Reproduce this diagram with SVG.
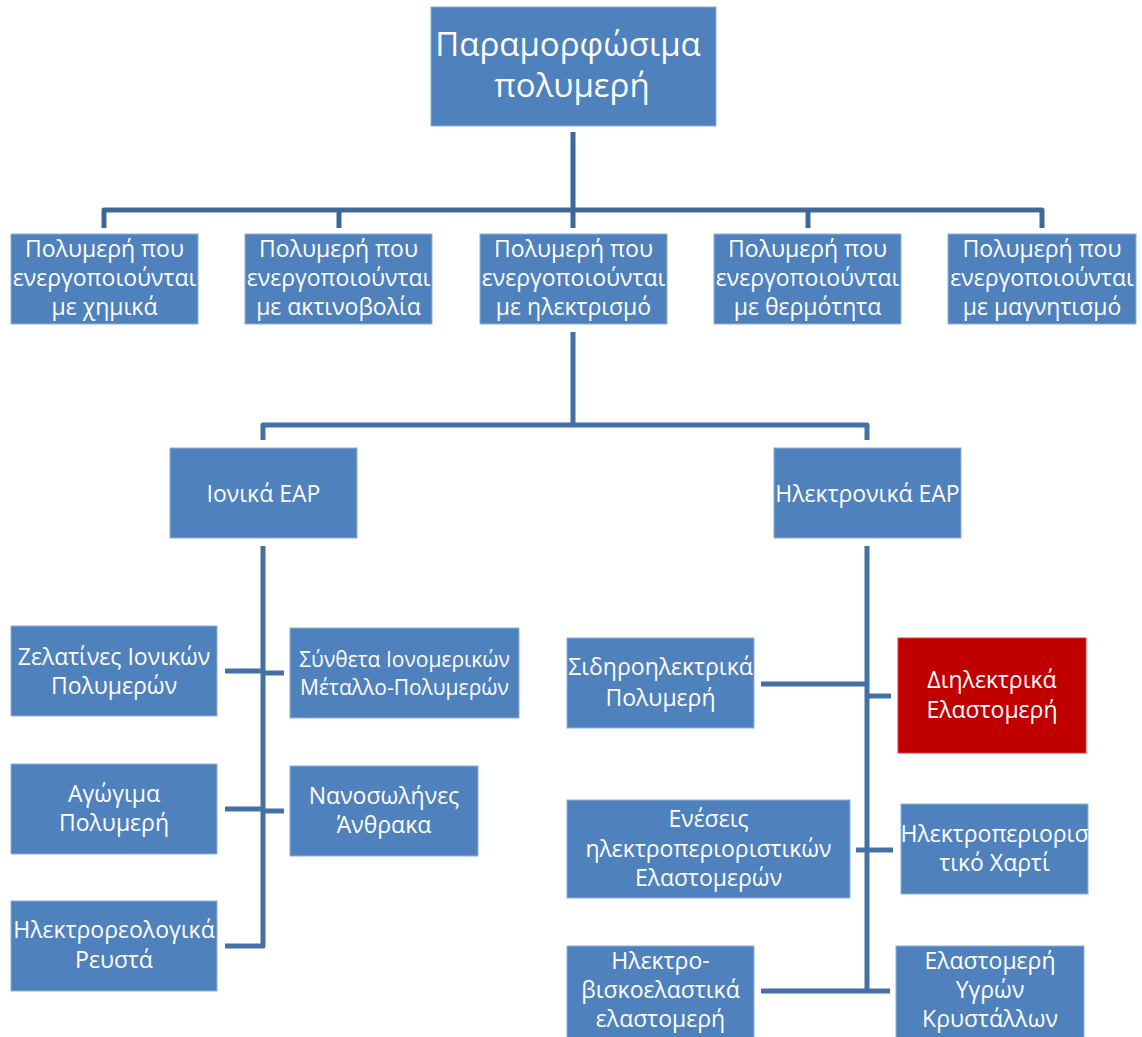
<svg xmlns="http://www.w3.org/2000/svg" width="1142" height="1037" viewBox="0 0 1142 1037">
<style>
.box{fill:#4F81BD;stroke:#8DAFD8;stroke-width:1}
.red{fill:#C00000;stroke:#D84040;stroke-width:1}
text{font-family:"Open Sans","Noto Sans","DejaVu Sans",sans-serif;fill:#FFFFFF;text-anchor:middle}
.t34{font-size:33px}
.t21{font-size:23px}
.t23{font-size:23px}
.t19{font-size:21px}
.c{fill:none;stroke:#4470A6;stroke-width:5;stroke-linejoin:round}
.ct{fill:none;stroke:#3F6899;stroke-width:5;stroke-linejoin:round}
</style>
<rect width="1142" height="1037" fill="#FFFFFF"/>
<g id="connectors">
<path class="ct" d="M573 132 V228"/>
<path class="ct" d="M104 228 V210 H1042 V228"/>
<path class="ct" d="M339 210 V228 M808 210 V228"/>
<path class="c" d="M573 332 V425"/>
<path class="c" d="M263 440 V425 H867 V440"/>
<path class="c" d="M263 546 V946 H225"/>
<path class="c" d="M225 671 H263 M263 673 H284"/>
<path class="c" d="M225 809 H263 M263 811 H284"/>
<path class="c" d="M867 546 V991"/>
<path class="c" d="M761 684 H867 M867 696 H891"/>
<path class="c" d="M856 850 H893"/>
<path class="c" d="M761 991 H890"/>
</g>
<g id="n0"><rect class="box" x="431" y="7" width="285" height="119"/><text class="t34" x="568" y="56">Παραμορφώσιμα</text><text class="t34" x="572" y="97">πολυμερή</text></g>
<g id="n1"><rect class="box" x="11" y="234" width="187" height="90"/><text class="t21" x="104.5" y="257">Πολυμερή που</text><text class="t21" x="104.5" y="286">ενεργοποιούνται</text><text class="t21" x="104.5" y="315">με χημικά</text></g>
<g id="n2"><rect class="box" x="245" y="234" width="187" height="90"/><text class="t21" x="338.5" y="257">Πολυμερή που</text><text class="t21" x="338.5" y="286">ενεργοποιούνται</text><text class="t21" x="338.5" y="315">με ακτινοβολία</text></g>
<g id="n3"><rect class="box" x="480" y="234" width="187" height="90"/><text class="t21" x="573.5" y="257">Πολυμερή που</text><text class="t21" x="573.5" y="286">ενεργοποιούνται</text><text class="t21" x="573.5" y="315">με ηλεκτρισμό</text></g>
<g id="n4"><rect class="box" x="714" y="234" width="187" height="90"/><text class="t21" x="807.5" y="257">Πολυμερή που</text><text class="t21" x="807.5" y="286">ενεργοποιούνται</text><text class="t21" x="807.5" y="315">με θερμότητα</text></g>
<g id="n5"><rect class="box" x="948" y="234" width="188" height="90"/><text class="t21" x="1042" y="257">Πολυμερή που</text><text class="t21" x="1042" y="286">ενεργοποιούνται</text><text class="t21" x="1042" y="315">με μαγνητισμό</text></g>
<g id="n6"><rect class="box" x="170" y="448" width="187" height="90"/><text class="t21" x="263.5" y="502">Ιονικά ΕΑΡ</text></g>
<g id="n7"><rect class="box" x="774" y="448" width="187" height="90"/><text class="t21" x="867.5" y="502">Ηλεκτρονικά ΕΑΡ</text></g>
<g id="n8"><rect class="box" x="11" y="626" width="206" height="90"/><text class="t23" x="114" y="665">Ζελατίνες Ιονικών</text><text class="t23" x="114" y="694">Πολυμερών</text></g>
<g id="n9"><rect class="box" x="290" y="628" width="229" height="90"/><text class="t19" x="404.5" y="667">Σύνθετα Ιονομερικών</text><text class="t19" x="404.5" y="695">Μέταλλο-Πολυμερών</text></g>
<g id="n10"><rect class="box" x="11" y="764" width="206" height="90"/><text class="t23" x="114" y="802">Αγώγιμα</text><text class="t23" x="114" y="831">Πολυμερή</text></g>
<g id="n11"><rect class="box" x="290" y="766" width="188" height="90"/><text class="t23" x="384" y="804">Νανοσωλήνες</text><text class="t23" x="384" y="833">Άνθρακα</text></g>
<g id="n12"><rect class="box" x="11" y="901" width="206" height="90"/><text class="t23" x="114" y="938">Ηλεκτρορεολογικά</text><text class="t23" x="114" y="968">Ρευστά</text></g>
<g id="n13"><rect class="box" x="567" y="638" width="187" height="90"/><text class="t23" x="660.5" y="675">Σιδηροηλεκτρικά</text><text class="t23" x="660.5" y="706">Πολυμερή</text></g>
<g id="n14"><rect class="red" x="898" y="638" width="188" height="115"/><text class="t23" x="992" y="688">Διηλεκτρικά</text><text class="t23" x="992" y="718">Ελαστομερή</text></g>
<g id="n15"><rect class="box" x="567" y="800" width="283" height="98"/><text class="t23" x="708.5" y="827">Ενέσεις</text><text class="t23" x="708.5" y="857">ηλεκτροπεριοριστικών</text><text class="t23" x="708.5" y="886">Ελαστομερών</text></g>
<g id="n16"><rect class="box" x="901" y="804" width="187" height="90"/><text class="t23" x="994.5" y="842">Ηλεκτροπεριορισ</text><text class="t23" x="994.5" y="871">τικό Χαρτί</text></g>
<g id="n17"><rect class="box" x="567" y="946" width="187" height="95"/><text class="t23" x="660.5" y="969">Ηλεκτρο-</text><text class="t23" x="660.5" y="998">βισκοελαστικά</text><text class="t23" x="660.5" y="1027">ελαστομερή</text></g>
<g id="n18"><rect class="box" x="896" y="946" width="188" height="95"/><text class="t23" x="990" y="969">Ελαστομερή</text><text class="t23" x="990" y="998">Υγρών</text><text class="t23" x="990" y="1027">Κρυστάλλων</text></g>
</svg>
